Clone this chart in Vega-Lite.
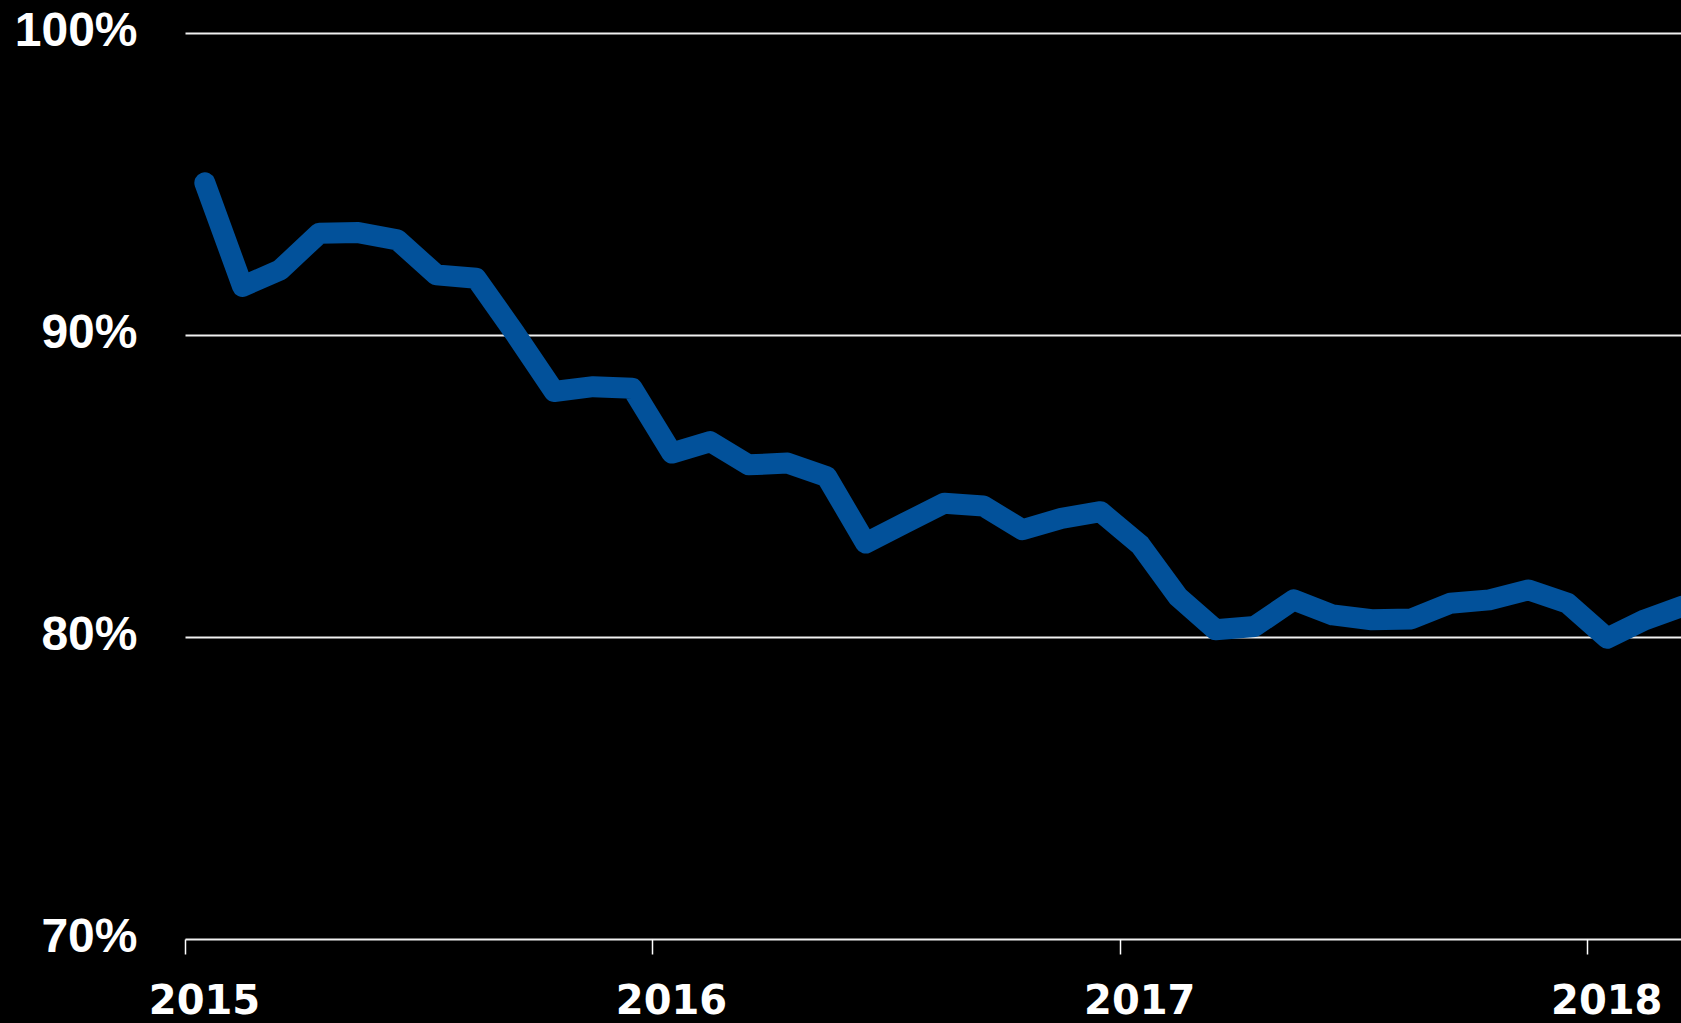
{
  "$schema": "https://vega.github.io/schema/vega-lite/v6.json",
  "width": 1496,
  "height": 906,
  "autosize": "none",
  "padding": {"left": 185, "top": 33, "right": 0, "bottom": 84},
  "background": "#000000",
  "config": {"view": {"stroke": null}},
  "data": {
    "values": [
      {"month": "2015-01-01", "share": 0.9504},
      {"month": "2015-02-01", "share": 0.9161},
      {"month": "2015-03-01", "share": 0.9216},
      {"month": "2015-04-01", "share": 0.9337},
      {"month": "2015-05-01", "share": 0.9339},
      {"month": "2015-06-01", "share": 0.9315},
      {"month": "2015-07-01", "share": 0.9199},
      {"month": "2015-08-01", "share": 0.9188},
      {"month": "2015-09-01", "share": 0.9005},
      {"month": "2015-10-01", "share": 0.8813},
      {"month": "2015-11-01", "share": 0.8829},
      {"month": "2015-12-01", "share": 0.8824},
      {"month": "2016-01-01", "share": 0.8609},
      {"month": "2016-02-01", "share": 0.8647},
      {"month": "2016-03-01", "share": 0.8570},
      {"month": "2016-04-01", "share": 0.8576},
      {"month": "2016-05-01", "share": 0.8531},
      {"month": "2016-06-01", "share": 0.8311},
      {"month": "2016-07-01", "share": 0.8377},
      {"month": "2016-08-01", "share": 0.8443},
      {"month": "2016-09-01", "share": 0.8434},
      {"month": "2016-10-01", "share": 0.8355},
      {"month": "2016-11-01", "share": 0.8393},
      {"month": "2016-12-01", "share": 0.8415},
      {"month": "2017-01-01", "share": 0.8305},
      {"month": "2017-02-01", "share": 0.8134},
      {"month": "2017-03-01", "share": 0.8024},
      {"month": "2017-04-01", "share": 0.8035},
      {"month": "2017-05-01", "share": 0.8123},
      {"month": "2017-06-01", "share": 0.8073},
      {"month": "2017-07-01", "share": 0.8057},
      {"month": "2017-08-01", "share": 0.8060},
      {"month": "2017-09-01", "share": 0.8112},
      {"month": "2017-10-01", "share": 0.8123},
      {"month": "2017-11-01", "share": 0.8156},
      {"month": "2017-12-01", "share": 0.8112},
      {"month": "2018-01-01", "share": 0.7996},
      {"month": "2018-02-01", "share": 0.8057},
      {"month": "2018-03-01", "share": 0.8102}
    ]
  },
  "mark": {
    "type": "line",
    "color": "#02519A",
    "strokeWidth": 21,
    "strokeCap": "round",
    "strokeJoin": "round",
    "clip": true
  },
  "encoding": {
    "x": {
      "field": "month",
      "timeUnit": "utcyearmonth",
      "type": "temporal",
      "bandPosition": 0.5,
      "scale": {
        "domain": [
          {"year": 2015, "month": 1, "date": 1, "utc": true},
          {"year": 2018, "month": 3, "date": 15, "hours": 6, "utc": true}
        ]
      },
      "axis": {
        "title": null,
        "values": [
          {"year": 2015, "month": 1, "date": 1, "utc": true},
          {"year": 2016, "month": 1, "date": 1, "utc": true},
          {"year": 2017, "month": 1, "date": 1, "utc": true},
          {"year": 2018, "month": 1, "date": 1, "utc": true}
        ],
        "format": "%Y",
        "grid": false,
        "domain": false,
        "ticks": true,
        "tickColor": "#ffffff",
        "tickSize": 15,
        "tickWidth": 1.5,
        "labelFont": "DejaVu Sans",
        "labelFontWeight": "bold",
        "labelFontSize": 40,
        "labelColor": "#ffffff",
        "labelPadding": 27,
        "labelOffset": 19,
        "labelAlign": "center",
        "labelFlush": false,
        "labelOverlap": false,
        "labelBound": false
      }
    },
    "y": {
      "field": "share",
      "type": "quantitative",
      "scale": {"domain": [0.7, 1.0], "nice": false, "zero": false},
      "axis": {
        "title": null,
        "values": [0.7, 0.8, 0.9, 1.0],
        "format": ".0%",
        "domain": false,
        "ticks": false,
        "grid": true,
        "gridColor": "#f0f0f0",
        "gridWidth": 2,
        "labelFont": "Liberation Sans",
        "labelFontWeight": "bold",
        "labelFontSize": 48,
        "labelColor": "#ffffff",
        "labelPadding": 48,
        "labelOffset": -2,
        "labelBaseline": "middle",
        "labelFlush": false,
        "labelOverlap": false,
        "labelBound": false
      }
    }
  }
}
